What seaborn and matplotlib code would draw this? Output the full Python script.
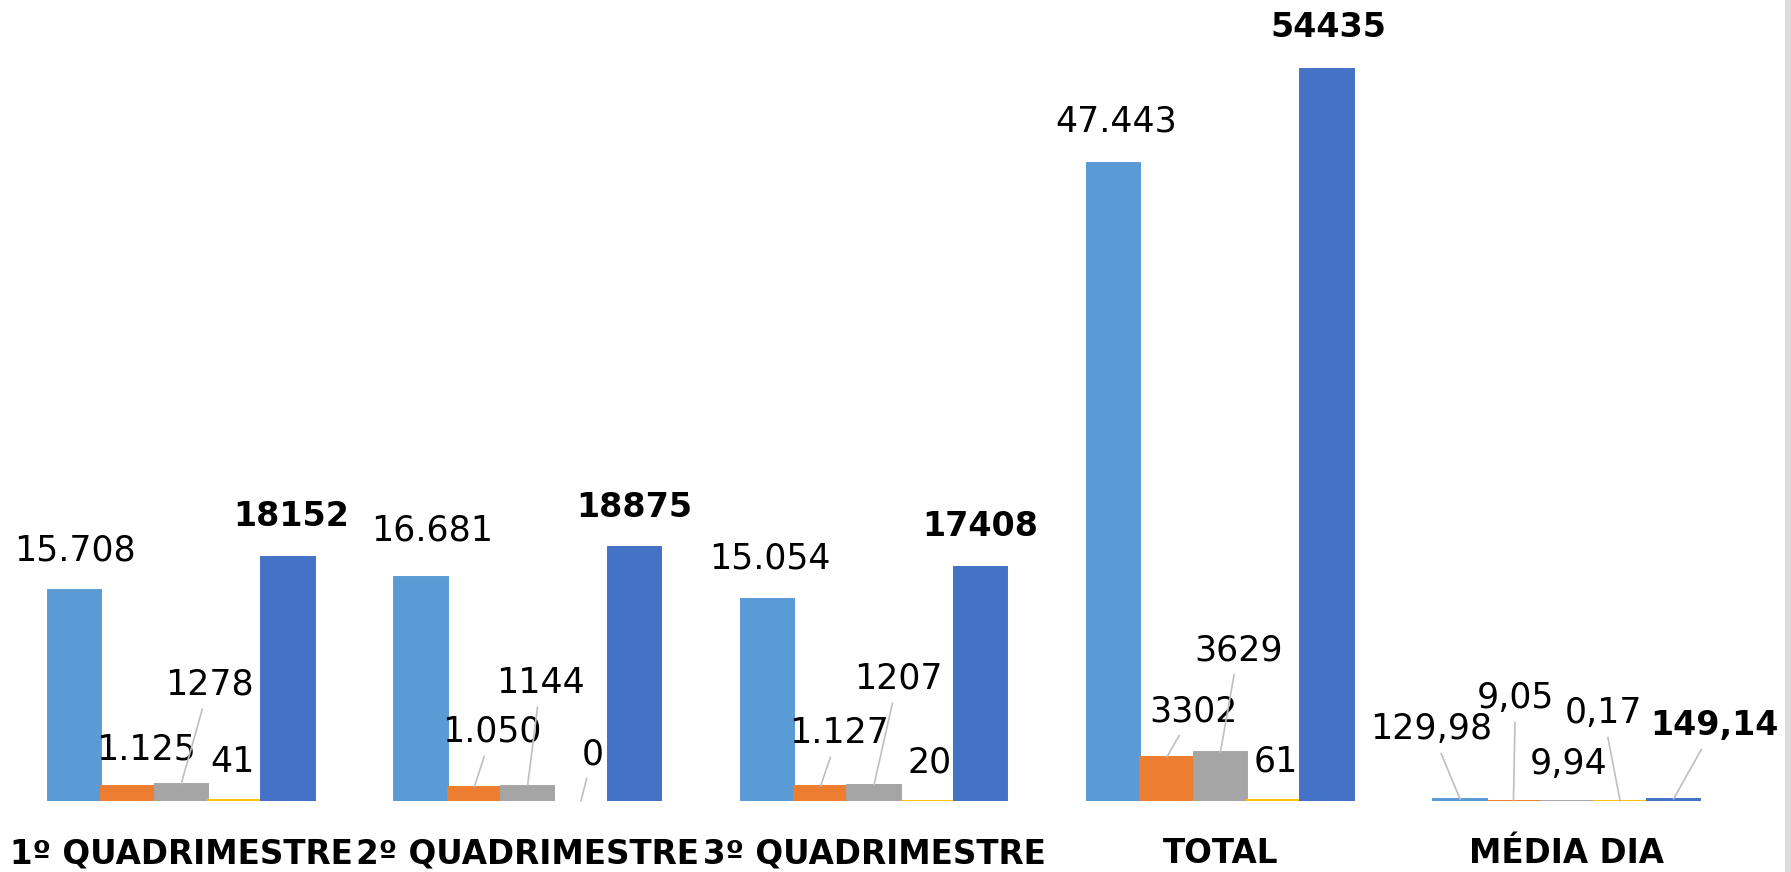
import pandas as pd
import seaborn as sns
from matplotlib import pyplot as plt

# Dados
categorias = ["1º QUADRIMESTRE", "2º QUADRIMESTRE", "3º QUADRIMESTRE", "TOTAL", "MÉDIA DIA"]
series = ["Série 1", "Série 2", "Série 3", "Série 4", "Série 5"]
serie1 = [15708, 16681, 15054, 47443, 129.98]
serie2 = [1125, 1050, 1127, 3302, 9.05]
serie3 = [1278, 1144, 1207, 3629, 9.94]
serie4 = [41, 0, 20, 61, 0.17]
serie5 = [18152, 18875, 17408, 54435, 149.14]

# Rótulos como aparecem no gráfico
rotulos1 = ["15.708", "16.681", "15.054", "47.443", "129,98"]
rotulos2 = ["1.125", "1.050", "1.127", "3302", "9,05"]
rotulos3 = ["1278", "1144", "1207", "3629", "9,94"]
rotulos4 = ["41", "0", "20", "61", "0,17"]
rotulos5 = ["18152", "18875", "17408", "54435", "149,14"]

cores = ["#5B9BD5", "#ED7D31", "#A5A5A5", "#FFC000", "#4472C4"]

# Deslocamento dos rótulos (pixels) e linhas de chamada
desloc = [
    [(0, 39), (11, 46), (3, 40), (2, 42), (-29, 70)],
    [(18, 36), (18, 55), (18, 53), (26, 45), (2, 103)],
    [(28, 99), (13, 103), (24, 106), (18, 102), (2, 37)],
    [(-2, 38), (12, 47), (2, 38), (2, 39), (-17, 88)],
    [(3, 40), (0, 40), (0, 40), (1, 41), (41, 73)],
]
chamadas = [
    [False, False, False, False, True],
    [False, True, True, True, True],
    [True, True, True, True, False],
    [False, True, False, False, True],
    [False, False, False, False, True],
]

valores = [serie1, serie2, serie3, serie4, serie5]
rotulos = [rotulos1, rotulos2, rotulos3, rotulos4, rotulos5]
df = pd.DataFrame({
    "categoria": categorias * len(series),
    "serie": [s for s in series for _ in categorias],
    "valor": [v for vals in valores for v in vals],
})

sns.set_style("white")
plt.rcParams["font.family"] = ["DejaVu Sans"]

fig = plt.figure(figsize=(17.91, 8.72), dpi=100)
ax = fig.add_axes([8 / 1791, 71 / 872, 1732 / 1791, 793.4 / 872])
sns.barplot(data=df, x="categoria", y="valor", hue="serie", palette=cores,
            width=0.77, gap=0, saturation=1, errorbar=None, legend=False, ax=ax,
            linewidth=1.4)
for cont, cor in zip(ax.containers, cores):
    for p in cont.patches:
        # barra com valor zero não aparece
        p.set_edgecolor(cor if p.get_height() > 0 else "none")

ax.set_ylim(0, 59000)
ax.set_xlim(-0.5, 4.5)
ax.set_yticks([])
ax.set_xlabel("")
ax.set_ylabel("")
ax.tick_params(axis="x", length=0, pad=26, labelsize=23.5, labelcolor="black")
for t in ax.get_xticklabels():
    t.set_fontweight("bold")
sns.despine(ax=ax, left=True, bottom=True)

# Rótulos de dados
for i, cont in enumerate(ax.containers):
    negrito = i == 4
    for j, p in enumerate(cont.patches):
        x = p.get_x() + p.get_width() / 2
        y = p.get_height()
        dx, dy = desloc[i][j]
        props = None
        if chamadas[i][j]:
            props = dict(arrowstyle="-", color="#BFBFBF", lw=1.2, shrinkA=3, shrinkB=0)
        ax.annotate(rotulos[i][j], (x, y), xytext=(dx, dy), textcoords="offset pixels",
                    ha="center", va="center", fontsize=24 if negrito else 25,
                    fontweight="bold" if negrito else "normal", color="black",
                    arrowprops=props, annotation_clip=False)

# Borda direita
fig.add_artist(plt.Rectangle((1785 / 1791, 0), 6 / 1791, 1, transform=fig.transFigure,
                             color="#DCDCDC", lw=0))

fig.savefig("out.png", dpi=100)
